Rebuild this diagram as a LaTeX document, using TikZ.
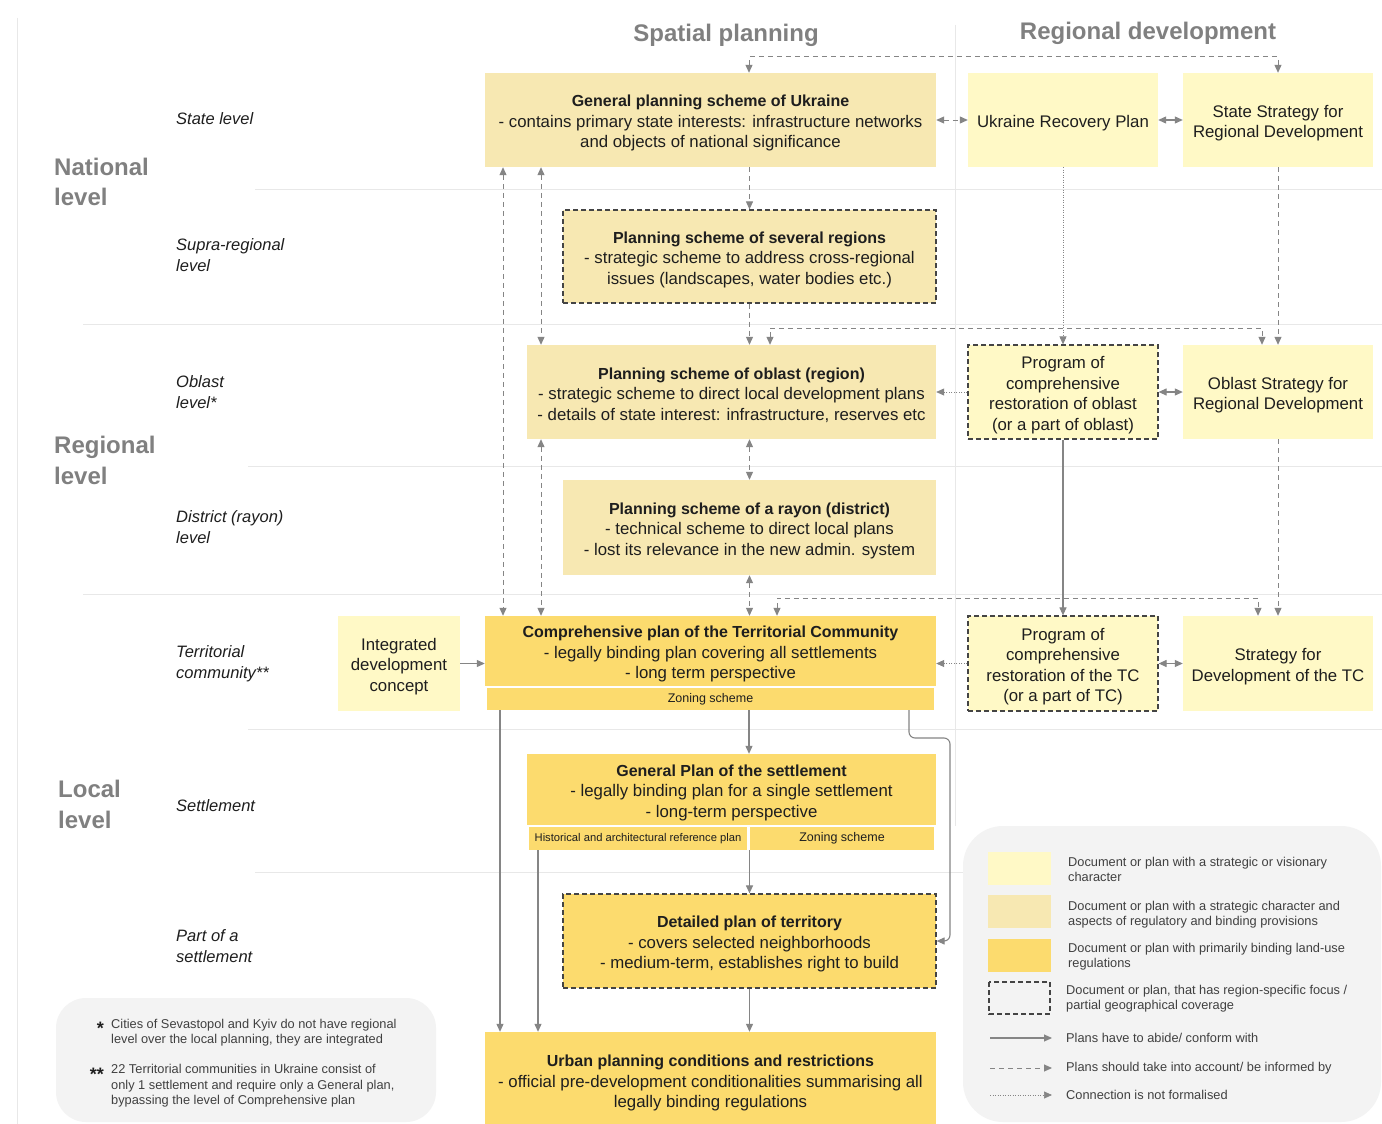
\documentclass[tikz,border=0pt]{standalone}
\usepackage{fontspec}
\setmainfont{Liberation Sans}
\usetikzlibrary{arrows.meta}
\definecolor{lightY}{HTML}{FFF9C6}
\definecolor{tanY}{HTML}{F7E8B2}
\definecolor{goldY}{HTML}{FCDB6E}
\definecolor{hdr}{HTML}{808080}
\definecolor{conn}{HTML}{858585}
\definecolor{rulec}{HTML}{E8E8E8}
\definecolor{legbg}{HTML}{F3F3F3}
\definecolor{txt}{HTML}{1E1E1E}
\definecolor{dashc}{HTML}{444444}
\newcommand{\tshift}{\rule{0pt}{18pt}}
\newcommand{\ttl}[1]{\tshift{\fontsize{16}{20.5}\selectfont\bfseries #1}}
\begin{document}
\begin{tikzpicture}[x=1pt,y=-1pt,
  box/.style={inner sep=0pt, align=center, text=txt, font=\fontsize{16.8}{20.5}\selectfont},
  partial/.style={draw=dashc, line width=1.2pt, dash pattern=on 5pt off 3pt},
  subbox/.style={inner sep=0pt, align=center, text=txt, fill=goldY},
  lvl/.style={anchor=west, inner sep=0pt, align=left, text=txt, font=\fontsize{16.5}{21}\selectfont\itshape},
  biglbl/.style={anchor=west, inner sep=0pt, align=left, text=hdr, font=\fontsize{24}{30.5}\selectfont\bfseries},
  hdrlbl/.style={inner sep=0pt, text=hdr, font=\fontsize{24}{28}\selectfont\bfseries},
  legtxt/.style={anchor=west, inner sep=0pt, align=left, text=txt!85, font=\fontsize{12.8}{15.5}\selectfont},
  star/.style={anchor=north east, inner sep=0pt, text=txt, font=\fontsize{18}{20}\selectfont\bfseries},
  tip/.tip={Triangle[length=8pt,width=7pt]},
  sol/.style={draw=conn, line width=1.1pt},
  dsh/.style={draw=conn, line width=1pt, dash pattern=on 5pt off 4pt},
  dot/.style={draw=conn, line width=0.7pt, dash pattern=on 1pt off 1.5pt},
  rulel/.style={draw=rulec, line width=0.8pt}
]
\useasboundingbox (0,0) rectangle (1382,1124);
\fill[white] (0,0) rectangle (1382,1124);

% grid rules
\draw[rulel] (17,18) -- (17,1124);
\draw[rulel] (955,25) -- (955,826);
\draw[rulel] (255,189) -- (1382,189);
\draw[rulel] (83,324) -- (1382,324);
\draw[rulel] (248,466) -- (1382,466);
\draw[rulel] (83,594) -- (1382,594);
\draw[rulel] (248,729) -- (1382,729);
\draw[rulel] (255,872) -- (963,872);

% headers
\node[hdrlbl] (hsp) at (726,35) {Spatial planning};
\node[hdrlbl] (hrd) at (1148,33) {Regional development};

\node[biglbl] (lnat) at (54,182) {National\\level};
\node[biglbl] (lreg) at (54,460.5) {Regional\\level};
\node[biglbl] (lloc) at (58,804.5) {Local\\level};

\node[lvl] (l1) at (176,119) {State level};
\node[lvl] (l2) at (176,255.5) {Supra-regional\\level};
\node[lvl] (l3) at (176,392) {Oblast\\level*};
\node[lvl] (l4) at (176,527.5) {District (rayon)\\level};
\node[lvl] (l5) at (176,663.5) {Territorial\\community**};
\node[lvl] (l6) at (176,806) {Settlement};
\node[lvl] (l7) at (176,946.5) {Part of a\\settlement};

% boxes
\node[box, fill=tanY, minimum width=451pt, minimum height=94pt] (gps) at (710.5,120)
  {\ttl{General planning scheme of Ukraine}\\- contains primary state interests: infrastructure networks\\and objects of national significance};
\node[box, fill=lightY, minimum width=190pt, minimum height=94pt] (urp) at (1063,120) {\tshift Ukraine Recovery Plan};
\node[box, fill=lightY, minimum width=190pt, minimum height=94pt] (ssrd) at (1278,120) {\tshift State Strategy for\\Regional Development};

\node[box, fill=tanY, partial, minimum width=373pt, minimum height=93pt] (psr) at (749.5,256.5)
  {\ttl{Planning scheme of several regions}\\- strategic scheme to address cross-regional\\issues (landscapes, water bodies etc.)};

\node[box, fill=tanY, minimum width=409pt, minimum height=94pt] (pso) at (731.5,392)
  {\ttl{Planning scheme of oblast (region)}\\- strategic scheme to direct local development plans\\- details of state interest: infrastructure, reserves etc};
\node[box, fill=lightY, partial, minimum width=190pt, minimum height=94pt] (pco) at (1063,392)
  {\tshift Program of\\comprehensive\\restoration of oblast\\(or a part of oblast)};
\node[box, fill=lightY, minimum width=190pt, minimum height=94pt] (osrd) at (1278,392) {\tshift Oblast Strategy for\\Regional Development};

\node[box, fill=tanY, minimum width=373pt, minimum height=95pt] (psd) at (749.5,527.5)
  {\ttl{Planning scheme of a rayon (district)}\\- technical scheme to direct local plans\\- lost its relevance in the new admin. system};

\node[box, fill=goldY, minimum width=451pt, minimum height=70pt] (tc) at (710.5,651)
  {\ttl{Comprehensive plan of the Territorial Community}\\- legally binding plan covering all settlements\\- long term perspective};
\node[subbox, minimum width=447pt, minimum height=22pt, font=\fontsize{12.5}{14}\selectfont] (tcz) at (710.5,699) {Zoning scheme};
\node[box, fill=lightY, minimum width=122pt, minimum height=95pt] (idc) at (399,663.5) {\tshift Integrated\\development\\concept};
\node[box, fill=lightY, partial, minimum width=190pt, minimum height=95pt] (pct) at (1063,663.5)
  {\tshift Program of\\comprehensive\\restoration of the TC\\(or a part of TC)};
\node[box, fill=lightY, minimum width=190pt, minimum height=95pt] (sdtc) at (1278,663.5) {\tshift Strategy for\\Development of the TC};

\node[box, fill=goldY, minimum width=409pt, minimum height=71pt] (gp) at (731.5,789.5)
  {\ttl{General Plan of the settlement}\\- legally binding plan for a single settlement\\- long-term perspective};
\node[subbox, minimum width=218pt, minimum height=23pt, font=\fontsize{11.2}{13}\selectfont] (hist) at (638,838.5) {Historical and architectural reference plan};
\node[subbox, minimum width=184pt, minimum height=23pt, font=\fontsize{12.5}{14}\selectfont] (gpz) at (842,838.5) {Zoning scheme};

\node[box, fill=goldY, partial, minimum width=373pt, minimum height=94pt] (dpt) at (749.5,941)
  {\ttl{Detailed plan of territory}\\- covers selected neighborhoods\\- medium-term, establishes right to build};

\node[box, fill=goldY, minimum width=451pt, minimum height=96pt] (upc) at (710.5,1080)
  {\ttl{Urban planning conditions and restrictions}\\- official pre-development conditionalities summarising all\\legally binding regulations};

% connectors
\draw[dsh, tip-tip] (749,0 |- gps.north) -- (749,57) -| (ssrd.north);
\draw[dsh, tip-tip] (gps.east) -- (urp.west);
\draw[sol, tip-tip] (urp.east) -- (ssrd.west);
\draw[dsh, -tip] (psr.north |- gps.south) -- (psr.north);
\draw[dsh, -tip] (psr.south) -- (psr.south |- pso.north);
\draw[dsh, tip-tip] (503,0 |- gps.south) -- (503,0 |- tc.north);
\draw[dsh, tip-tip] (541,0 |- gps.south) -- (541,0 |- pso.north);
\draw[dsh, tip-tip] (541,0 |- pso.south) -- (541,0 |- tc.north);
\draw[dsh, tip-tip] (psd.north |- pso.south) -- (psd.north);
\draw[dsh, tip-tip] (psd.south) -- (psd.south |- tc.north);
\draw[dot, -tip] (urp.south) -- (pco.north);
\draw[dsh, -tip] (ssrd.south) -- (osrd.north);
\draw[dsh, tip-tip] (770,0 |- pso.north) -- (770,328) -| (1262,0 |- osrd.north);
\draw[dot, -tip] (pco.west) -- (pso.east |- pco.west);
\draw[sol, tip-tip] (pco.east) -- (osrd.west);
\draw[sol, -tip] (pco.south) -- (pct.north);
\draw[dsh, -tip] (osrd.south) -- (sdtc.north);
\draw[dsh, tip-tip] (777,0 |- tc.north) -- (777,598) -| (1258,0 |- sdtc.north);
\draw[dot, -tip] (pct.west) -- (tc.east |- pct.west);
\draw[sol, tip-tip] (pct.east) -- (sdtc.west);
\draw[sol, -tip] (idc.east) -- (tc.west |- idc.east);
\draw[sol, -tip] (749,0 |- tcz.south) -- (749,0 |- gp.north);
\draw[sol, -tip, rounded corners=6pt] (909,0 |- tcz.south) |- (950,738) |- (dpt.east);
\draw[sol, -tip] (500,0 |- tcz.south) -- (500,0 |- upc.north);
\draw[sol, -tip] (538,0 |- hist.south) -- (538,0 |- upc.north);
\draw[sol, -tip] (dpt.north |- gpz.south) -- (dpt.north);
\draw[sol, -tip] (dpt.south) -- (dpt.south |- upc.north);

% legend
\fill[legbg, rounded corners=40pt] (963,826) rectangle (1381,1122);
\fill[lightY] (988,852) rectangle (1051,885);
\fill[tanY] (988,895) rectangle (1051,928);
\fill[goldY] (988,939) rectangle (1051,972);
\draw[partial] (989,982) rectangle (1050,1014);
\node[legtxt] (t1) at (1068,869.5) {Document or plan with a strategic or visionary\\character};
\node[legtxt] (t2) at (1068,914.5) {Document or plan with a strategic character and\\aspects of regulatory and binding provisions};
\node[legtxt] (t3) at (1068,956.5) {Document or plan with primarily binding land-use\\regulations};
\node[legtxt] (t4) at (1066,998.5) {Document or plan, that has region-specific focus /\\partial geographical coverage};
\coordinate (a1) at (990,1038); \coordinate (b1) at (1052,1038);
\coordinate (a2) at (990,1068); \coordinate (b2) at (1052,1068);
\coordinate (a3) at (990,1095); \coordinate (b3) at (1052,1095);
\draw[sol, -tip] (a1) -- (b1);
\draw[dsh, -tip] (a2) -- (b2);
\draw[dot, -tip] (a3) -- (b3);
\node[legtxt] (t5) at (1066,1038) {Plans have to abide/ conform with};
\node[legtxt] (t6) at (1066,1068) {Plans should take into account/ be informed by};
\node[legtxt] (t7) at (1066,1095) {Connection is not formalised};

% footnotes
\fill[legbg, rounded corners=30pt] (56,998) rectangle (436,1122);
\node[star] (s1) at (104,1022) {*};
\node[legtxt] (f1) at (111,1032.5) {Cities of Sevastopol and Kyiv do not have regional\\level over the local planning, they are integrated};
\node[star] (s2) at (104,1068) {**};
\node[legtxt] (f2) at (111,1086) {22 Territorial communities in Ukraine consist of\\only 1 settlement and require only a General plan,\\bypassing the level of Comprehensive plan};
\end{tikzpicture}
\end{document}
